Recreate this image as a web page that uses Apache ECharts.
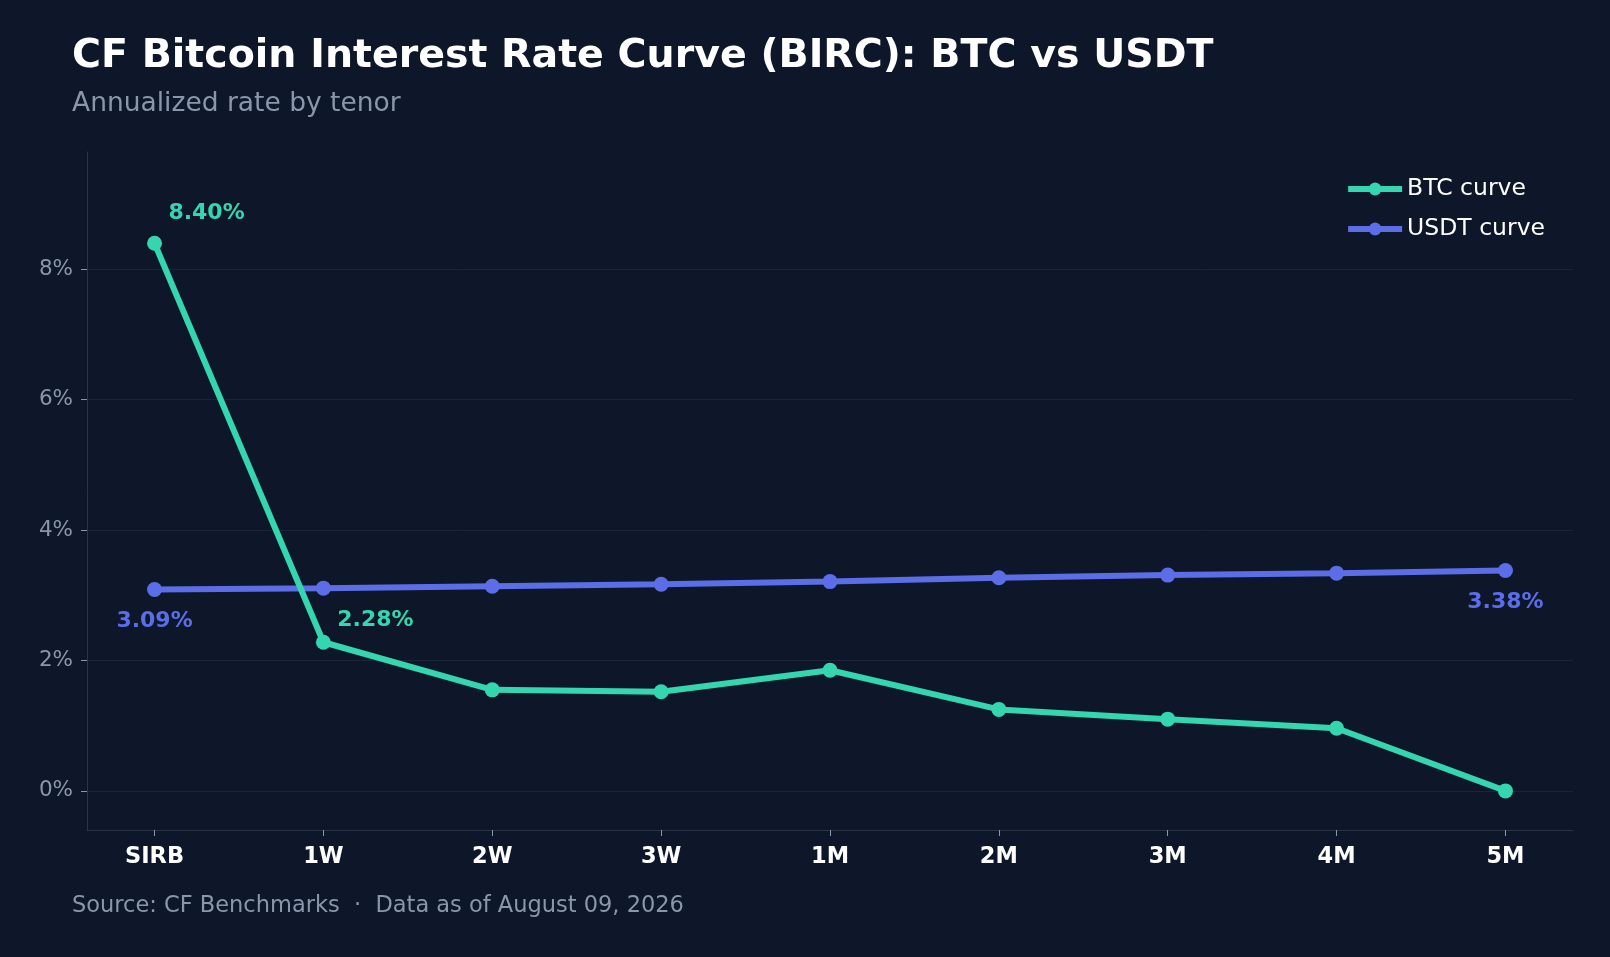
<!DOCTYPE html>
<html>
<head>
<meta charset="utf-8">
<script src="https://cdn.jsdelivr.net/npm/echarts@6/dist/echarts.min.js"></script>
<style>
  html, body { margin: 0; padding: 0; background: #0e1729; }
  #chart { width: 1610px; height: 957px; }
</style>
</head>
<body>
<div id="chart"></div>
<script>
const tenors = ['SIRB', '1W', '2W', '3W', '1M', '2M', '3M', '4M', '5M']
const btcRates = [8.40, 2.28, 1.55, 1.52, 1.85, 1.25, 1.10, 0.96, 0.00]
const usdtRates = [3.09, 3.11, 3.14, 3.17, 3.21, 3.27, 3.31, 3.34, 3.38]
const yTicks = [0, 2, 4, 6, 8]

const btcColor = '#34d6b0'
const usdtColor = '#5b6ee8'
const font = 'DejaVu Sans'

// only some points get a value label
const btcLabeled = [0, 1]
const usdtLabeled = [0, 8]

function toPoints (values, labeled, color, offset) {
  return values.map(function (v, i) {
    const p = { value: [i, v] }
    if (labeled.indexOf(i) >= 0) {
      p.label = {
        show: true,
        formatter: v.toFixed(2) + '%',
        color: color,
        fontSize: 22,
        fontWeight: 'bold',
        fontFamily: font,
        position: offset[i] ? 'top' : 'bottom',
        offset: offset[i] || [0, 8]
      }
    }
    return p
  })
}

const chart = echarts.init(document.getElementById('chart'))
chart.setOption({
  backgroundColor: '#0e1729',
  animation: false,
  title: {
    text: 'CF Bitcoin Interest Rate Curve (BIRC): BTC vs USDT',
    subtext: 'Annualized rate by tenor',
    left: 67,
    top: 32,
    itemGap: 14,
    textStyle: { color: '#ffffff', fontSize: 39.5, fontWeight: 'bold', fontFamily: font },
    subtextStyle: { color: '#8a96ab', fontSize: 26.5, fontFamily: font }
  },
  graphic: [{
    type: 'text',
    left: 72,
    top: 895,
    style: {
      text: 'Source: CF Benchmarks  ·  Data as of August 09, 2026',
      fill: '#8a96ab',
      fontSize: 22.5,
      fontFamily: font
    }
  }],
  legend: {
    orient: 'vertical',
    right: 60,
    top: 172,
    itemWidth: 54,
    itemHeight: 16,
    itemGap: 16,
    lineStyle: { width: 6 },
    textStyle: { color: '#ffffff', fontSize: 23.5, fontFamily: font }
  },
  grid: { left: 87, right: 37, top: 152, bottom: 127 },
  xAxis: {
    type: 'value',
    min: -0.4,
    max: 8.4,
    splitLine: { show: false },
    axisLine: { show: true, onZero: false, lineStyle: { color: '#2a3446' } },
    axisTick: { show: true, customValues: tenors.map(function (t, i) { return i }), length: 6, lineStyle: { color: '#8a96ab' } },
    axisLabel: {
      customValues: tenors.map(function (t, i) { return i }),
      formatter: function (v) { return tenors[Math.round(v)] },
      color: '#ffffff',
      fontSize: 22.5,
      fontWeight: 'bold',
      fontFamily: font,
      margin: 16
    }
  },
  yAxis: {
    type: 'value',
    min: -0.6,
    max: 9.8,
    splitLine: { show: false },
    axisLine: { show: true, onZero: false, lineStyle: { color: '#2a3446' } },
    axisTick: { show: true, customValues: yTicks, length: 6, lineStyle: { color: '#8a96ab' } },
    axisLabel: {
      customValues: yTicks,
      formatter: '{value}%',
      color: '#8a96ab',
      fontSize: 21.5,
      fontFamily: font,
      margin: 14
    }
  },
  series: [
    {
      name: 'BTC curve',
      type: 'line',
      data: toPoints(btcRates, btcLabeled, btcColor, { 0: [52, -6], 1: [52, 2] }),
      symbol: 'circle',
      symbolSize: 15,
      itemStyle: { color: btcColor },
      lineStyle: { width: 6, color: btcColor },
      z: 3
    },
    {
      name: 'USDT curve',
      type: 'line',
      data: toPoints(usdtRates, usdtLabeled, usdtColor, {}),
      symbol: 'circle',
      symbolSize: 15,
      itemStyle: { color: usdtColor },
      lineStyle: { width: 6, color: usdtColor },
      z: 2
    },
    {
      // grid lines only
      type: 'line',
      data: [],
      z: 0,
      markLine: {
        silent: true,
        symbol: 'none',
        z: 0,
        label: { show: false },
        lineStyle: { color: '#1b2538', width: 1, type: 'solid' },
        data: yTicks.map(function (v) { return { yAxis: v } })
      }
    }
  ]
})
</script>
</body>
</html>
